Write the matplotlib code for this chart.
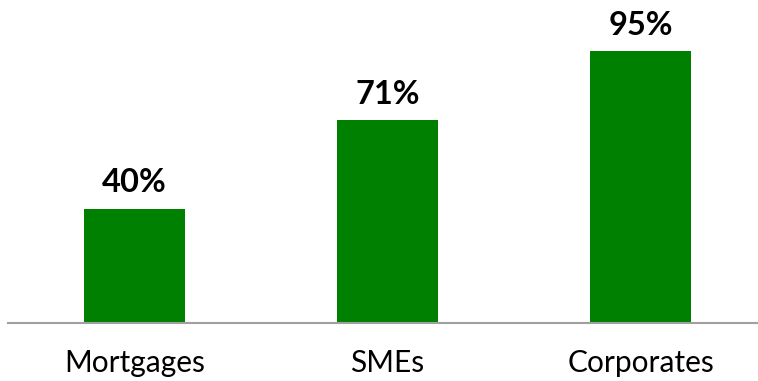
import matplotlib
matplotlib.use("Agg")
from matplotlib import pyplot as plt

categories = ["Mortgages", "SMEs", "Corporates"]
values = [40, 71, 95]
labels = ["40%", "71%", "95%"]

plt.rcParams['font.family'] = ['Lato', 'DejaVu Sans']

fig = plt.figure(figsize=(7.58, 3.81), dpi=100)
ax = fig.add_axes([8/758, 58/381, 750/758, 286/381])

x = list(range(len(categories)))
ax.bar(x, values, width=0.4, color="#008000")
for xi, v, lab in zip(x, values, labels):
    ax.text(xi, v + 4, lab, ha="center", va="bottom", fontsize=23.5, fontweight="bold")

ax.set_xlim(-0.5, 2.464)
ax.set_ylim(0, 100)
ax.set_xticks(x)
ax.set_xticklabels(categories, fontsize=21.5)
ax.tick_params(axis="x", length=0, pad=19)
ax.set_yticks([])
for s in ["top", "right", "left"]:
    ax.spines[s].set_visible(False)
ax.spines["bottom"].set_color("#a0a0a0")
ax.spines["bottom"].set_linewidth(1.5)

fig.savefig("out.png", dpi=100)
